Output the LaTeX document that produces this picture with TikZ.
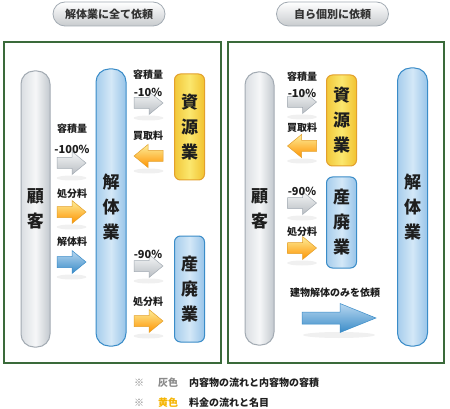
\documentclass[tikz,border=0pt]{standalone}
\usepackage{fontspec}
\setmainfont{Noto Sans CJK JP}
\definecolor{txt}{HTML}{1E1E1E}
\definecolor{frame}{HTML}{3A6A3A}
\definecolor{grayB}{HTML}{A3ABB3}
\definecolor{grayL}{HTML}{DADEE2}
\definecolor{grayM}{HTML}{F6F7F8}
\definecolor{grayR}{HTML}{C2C8CE}
\definecolor{blueB}{HTML}{3A8CC8}
\definecolor{blueL}{HTML}{A6CDEC}
\definecolor{blueM}{HTML}{D4E8F7}
\definecolor{blueR}{HTML}{98C4E8}
\definecolor{yelB}{HTML}{E3A02C}
\definecolor{yelL}{HTML}{F2C83A}
\definecolor{yelM}{HTML}{FBE76E}
\definecolor{yelR}{HTML}{F1C230}
\definecolor{legGray}{HTML}{8A8A8A}
\definecolor{legYel}{HTML}{F5B400}
\tikzset{
  lbl/.style={font=\bfseries\fontsize{10}{12}\selectfont, text=txt, inner sep=0pt},
  pct/.style={font=\bfseries\fontsize{11}{12}\selectfont, text=txt, inner sep=0pt},
  big/.style={font=\bfseries\fontsize{17}{25}\selectfont, text=txt, align=center, inner sep=0pt},
  panel/.style={draw=frame, line width=1.2pt, fill=white},
  graypill/.style={big, draw=grayB, line width=1pt, rounded corners=13pt, left color=grayL, right color=grayR, middle color=grayM, minimum width=29pt},
  bluepill/.style={big, draw=blueB, line width=1pt, rounded corners=13pt, left color=blueL, right color=blueR, middle color=blueM, minimum width=30pt},
  yelbox/.style={big, draw=yelB, line width=1pt, rounded corners=6pt, left color=yelL, right color=yelR, middle color=yelM, minimum width=30pt},
  bluebox/.style={big, draw=blueB, line width=1pt, rounded corners=6pt, left color=blueL, right color=blueR, middle color=blueM, minimum width=30pt},
  titlepill/.style={draw=grayB, line width=0.8pt, rounded corners=12pt, top color=white, bottom color=grayL!80!gray, minimum width=112pt, minimum height=24pt, font=\bfseries\fontsize{11}{12}\selectfont, text=black!80},
  grayarr/.style={draw=grayB, line width=0.5pt, top color=grayM, bottom color=grayR!85!gray},
  orarr/.style={draw=yelB, line width=0.5pt, top color=yelM!70!white, bottom color=orange!85!yellow},
  bluarr/.style={draw=blueB, line width=0.5pt, top color=blueL!80!white, bottom color=blueB},
  shad/.style={fill=black, opacity=0.06},
  leg/.style={font=\bfseries\fontsize{10}{12}\selectfont, text=txt, inner sep=0pt, anchor=west},
}
\newcommand\harrow[4]{%
  \fill[shad] (#2,#3+15) ellipse (15pt and 2.5pt);
  \begin{scope}[shift={(#2,#3)}, xscale=#4]
    \shade[#1] (-14.5,-5.5) -- (0.5,-5.5) -- (0.5,-11.5) -- (14.5,0) -- (0.5,11.5) -- (0.5,5.5) -- (-14.5,5.5) -- cycle;
  \end{scope}}
\begin{document}
\begin{tikzpicture}[x=1pt,y=-1pt]
\useasboundingbox (0,0) rectangle (450,409);
\fill[white] (0,0) rectangle (450,409);

% titles
\node[titlepill] (t1) at (109,14) {解体業に全て依頼};
\node[titlepill] (t2) at (332.5,14) {自ら個別に依頼};

% panels
\draw[panel] (4,42) rectangle (221,363);
\draw[panel] (228,42) rectangle (444,363);

% ---------- left panel ----------
\node[graypill, minimum height=276pt] (k1) at (35.5,209) {顧\\客};
\node[bluepill, minimum height=277pt] (g1) at (111,207.5) {解\\体\\業};
\node[yelbox, minimum height=106pt] (s1) at (189.5,127) {資\\源\\業};
\node[bluebox, minimum height=106pt] (p1) at (189.5,289) {産\\廃\\業};

\harrow{grayarr}{71.5}{163}{1}
\node[lbl] (l1) at (72,129) {容積量};
\node[pct] (l2) at (72,149) {-100\%};
\harrow{orarr}{71.5}{212}{1}
\node[lbl] (l3) at (72,194) {処分料};
\harrow{bluarr}{71.5}{262}{1}
\node[lbl] (l4) at (72,242) {解体料};

\harrow{grayarr}{148.5}{103}{1}
\node[lbl] (l5) at (148,75) {容積量};
\node[pct] (l6) at (148,92) {-10\%};
\harrow{orarr}{148.5}{156}{-1}
\node[lbl] (l7) at (148,136) {買取料};
\harrow{grayarr}{148.5}{266}{1}
\node[pct] (l8) at (148,254) {-90\%};
\harrow{orarr}{148.5}{321}{1}
\node[lbl] (l9) at (148,302) {処分料};

% ---------- right panel ----------
\node[graypill, minimum height=273pt] (k2) at (259.5,208.5) {顧\\客};
\node[bluepill, minimum height=278pt] (g2) at (412.5,207) {解\\体\\業};
\node[yelbox, minimum height=91pt] (s2) at (341.5,120.5) {資\\源\\業};
\node[bluebox, minimum height=91pt] (p2) at (341.5,222.5) {産\\廃\\業};

\harrow{grayarr}{302}{102}{1}
\node[lbl] (r1) at (302,77) {容積量};
\node[pct] (r2) at (302,93) {-10\%};
\harrow{orarr}{302}{146}{-1}
\node[lbl] (r3) at (302,128) {買取料};
\harrow{grayarr}{302}{203}{1}
\node[pct] (r4) at (302,191) {-90\%};
\harrow{orarr}{302}{248}{1}
\node[lbl] (r5) at (302,232) {処分料};

\node[lbl] (r6) at (335,293) {建物解体のみを依頼};
\fill[shad] (339,335) ellipse (36pt and 3pt);
\shade[bluarr] (302,312) -- (340,312) -- (340,303.5) -- (376,318) -- (340,332.5) -- (340,324) -- (302,324) -- cycle;

% ---------- legend ----------
\node[leg, text=legGray] (m1) at (134,383) {※};
\node[leg, text=legGray] (c1) at (158,383) {灰色};
\node[leg] (d1) at (189,383) {内容物の流れと内容物の容積};
\node[leg, text=legGray] (m2) at (134,403) {※};
\node[leg, text=legYel] (c2) at (158,403) {黄色};
\node[leg] (d2) at (189,403) {料金の流れと名目};
\end{tikzpicture}
\end{document}
